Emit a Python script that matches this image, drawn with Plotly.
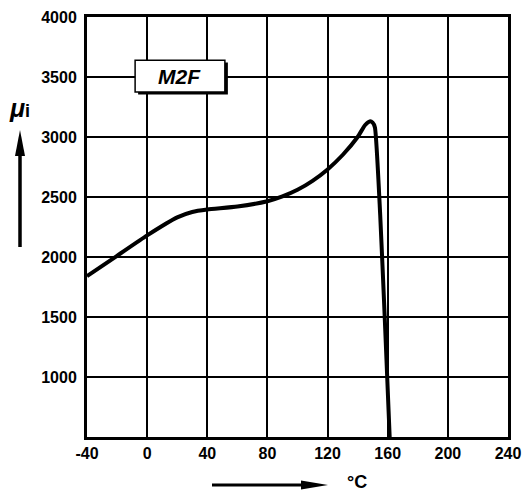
import plotly.graph_objects as go

temp_c = [-40, -20, 0, 20, 30, 40, 60, 80, 90, 100, 110, 120, 130, 140, 145, 148, 150, 151.5, 155, 158, 161.3]
mu_i = [1840, 2010, 2180, 2330, 2375, 2395, 2420, 2465, 2505, 2560, 2635, 2730, 2850, 3000, 3100, 3130, 3120, 3080, 2350, 1500, 500]

x_ticks = [-40, 0, 40, 80, 120, 160, 200, 240]
y_ticks = [1000, 1500, 2000, 2500, 3000, 3500, 4000]
label = "M2F"

FONT = "Liberation Sans, Arial, sans-serif"

# plot area in page pixels
L, R, T, B = 87, 508, 17, 437


def px(X):
    return (X - L) / (R - L)


def py(Y):
    return (B - Y) / (B - T)


fig = go.Figure()
fig.add_trace(go.Scatter(
    x=temp_c, y=mu_i, mode="lines",
    line=dict(color="black", width=4, shape="spline", smoothing=0.5),
    hoverinfo="skip", showlegend=False,
))

axis_common = dict(
    showgrid=True, gridcolor="black", gridwidth=1.5,
    showline=True, linecolor="black", linewidth=3, mirror=True,
    zeroline=False, ticks="", automargin=False,
    tickfont=dict(family=FONT, size=16, color="black", weight="bold"),
    fixedrange=True,
)
fig.update_xaxes(range=[-40, 240], tickvals=x_ticks, ticktext=[str(v) for v in x_ticks], **axis_common)
fig.update_yaxes(range=[500, 4000], tickvals=y_ticks, ticktext=[str(v) for v in y_ticks],
                 ticklabelstandoff=4, **axis_common)

# label box with drop shadow
fig.add_shape(type="rect", xref="x", yref="y", x0=-6, x1=53.7, y0=3355, y1=3620,
              fillcolor="black", line=dict(width=0), layer="above")
fig.add_shape(type="rect", xref="x", yref="y", x0=-8, x1=51.7, y0=3375, y1=3640,
              fillcolor="white", line=dict(color="black", width=1.5), layer="above")
fig.add_annotation(x=21.8, y=3508, xref="x", yref="y", text="<b><i>" + label + "</i></b>",
                   showarrow=False, xanchor="center", yanchor="middle",
                   font=dict(family=FONT, size=21, color="black"))

# y axis title and arrow
fig.add_annotation(x=px(19), y=py(108), xref="paper", yref="paper",
                   text="<b><i>μ</i></b><b><span style='font-size:18px'>i</span></b>",
                   showarrow=False, xanchor="center", yanchor="middle",
                   font=dict(family=FONT, size=25, color="black"))
fig.add_shape(type="line", xref="paper", yref="paper",
              x0=px(20), x1=px(20), y0=py(247), y1=py(150),
              line=dict(color="black", width=3.5))
fig.add_shape(type="path", xref="paper", yref="paper",
              path=f"M {px(20)},{py(130)} L {px(15)},{py(156)} L {px(25)},{py(156)} Z",
              fillcolor="black", line=dict(width=0))

# x axis title and arrow
fig.add_shape(type="line", xref="paper", yref="paper",
              x0=px(212), x1=px(305), y0=py(485), y1=py(485),
              line=dict(color="black", width=2.8))
fig.add_shape(type="path", xref="paper", yref="paper",
              path=f"M {px(328)},{py(485)} L {px(301)},{py(480.5)} L {px(301)},{py(489.5)} Z",
              fillcolor="black", line=dict(width=0))
fig.add_annotation(x=px(357), y=py(482), xref="paper", yref="paper",
                   text="<b>°C</b>", showarrow=False,
                   xanchor="center", yanchor="middle",
                   font=dict(family=FONT, size=18, color="black"))

fig.update_layout(
    width=522, height=497,
    margin=dict(l=L, r=522 - R, t=T, b=497 - B),
    paper_bgcolor="white", plot_bgcolor="white",
    showlegend=False,
)

fig.write_html("out.html", config={"displayModeBar": False},
               post_script="document.body.style.margin='0';document.body.style.overflow='hidden';")
